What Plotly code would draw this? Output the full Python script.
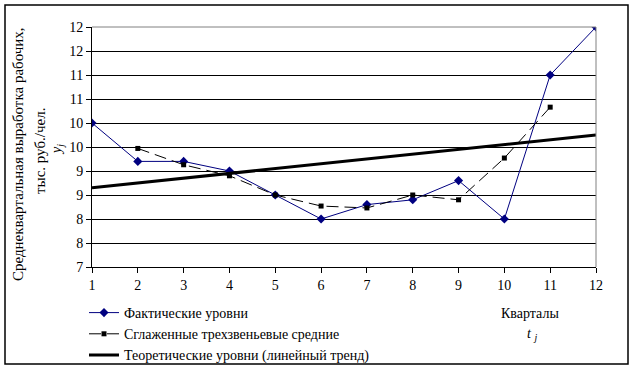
import plotly.graph_objects as go

quarters = [1, 2, 3, 4, 5, 6, 7, 8, 9, 10, 11, 12]
actual = [10.0, 9.2, 9.2, 9.0, 8.5, 8.0, 8.3, 8.4, 8.8, 8.0, 11.0, 12.0]
moving_avg = [None, 9.47, 9.13, 8.9, 8.5, 8.27, 8.23, 8.5, 8.4, 9.27, 10.33, None]
trend = [8.65, 8.75, 8.85, 8.95, 9.05, 9.15, 9.25, 9.35, 9.45, 9.55, 9.65, 9.75]
y_tickvals = [7, 7.5, 8, 8.5, 9, 9.5, 10, 10.5, 11, 11.5, 12]
y_ticktext = ["7", "8", "8", "9", "9", "10", "10", "11", "11", "12", "12"]
x_ticktext = [str(q) for q in quarters]

FONT = "Liberation Serif, Times New Roman, serif"

W, H = 634, 370
L, R, T, B = 92, 596, 27, 267
pw, ph = R - L, B - T


def px(x):
    return (x - L) / pw


def py(y):
    return (B - y) / ph


fig = go.Figure()
fig.add_trace(go.Scatter(
    x=quarters, y=actual, name="Фактические уровни", mode="lines+markers",
    line=dict(color="#000080", width=1),
    marker=dict(symbol="diamond", size=7, color="#000080"),
))
fig.add_trace(go.Scatter(
    x=quarters, y=moving_avg, name="Сглаженные трехзвеньевые средние", mode="lines+markers",
    line=dict(color="#000000", width=1, dash="12px,6px"),
    marker=dict(symbol="square", size=5, color="#000000"),
))
fig.add_trace(go.Scatter(
    x=quarters, y=trend, name="Теоретические уровни (линейный тренд)", mode="lines",
    line=dict(color="#000000", width=3),
))


def note(text, x, y, angle=0, size=14):
    return dict(text=text, textangle=angle, xref="paper", yref="paper",
                x=px(x), y=py(y), xanchor="center", yanchor="middle",
                showarrow=False, font=dict(family=FONT, size=size))


fig.update_layout(
    width=W, height=H,
    margin=dict(l=L, r=W - R, t=T, b=H - B, autoexpand=False),
    paper_bgcolor="white", plot_bgcolor="white",
    font=dict(family=FONT, size=14, color="black"),
    showlegend=True,
    legend=dict(
        x=px(84), y=py(297), xanchor="left", yanchor="top",
        bgcolor="rgba(0,0,0,0)", font=dict(family=FONT, size=14),
        tracegroupgap=0, itemwidth=30,
    ),
    xaxis=dict(
        range=[1, 12], tickvals=quarters, ticktext=x_ticktext,
        showgrid=False, zeroline=False,
        showline=True, linecolor="black", linewidth=1,
        ticks="outside", ticklen=5, tickcolor="black",
        tickfont=dict(family=FONT, size=14),
    ),
    yaxis=dict(
        range=[7, 12], tickvals=y_tickvals, ticktext=y_ticktext,
        showgrid=True, gridcolor="black", gridwidth=1, zeroline=False,
        showline=True, linecolor="black", linewidth=1,
        ticks="outside", ticklen=5, tickcolor="black",
        tickfont=dict(family=FONT, size=14),
    ),
    shapes=[
        dict(type="line", xref="paper", yref="paper", x0=0, x1=1, y0=1, y1=1,
             line=dict(color="#808080", width=1)),
        dict(type="line", xref="paper", yref="paper", x0=1, x1=1, y0=0, y1=1,
             line=dict(color="#808080", width=1)),
        dict(type="rect", xref="paper", yref="paper",
             x0=px(5), x1=px(628), y0=py(364), y1=py(5),
             line=dict(color="black", width=1.5), layer="below"),
    ],
    annotations=[
        note("Среднеквартальная выработка рабочих,", 18, 154, -90, 15),
        note("тыс. руб./чел.", 40, 151, -90, 15),
        note("<i>y<sub>j</sub></i>", 57, 150, -90),
        note("Кварталы", 530, 313),
        note("<i>t</i> <i><sub>j</sub></i>", 532, 334),
    ],
)

fig.write_html(
    "out.html",
    config={"displayModeBar": False},
    post_script="document.body.style.margin='0';document.body.style.overflow='hidden';",
)
